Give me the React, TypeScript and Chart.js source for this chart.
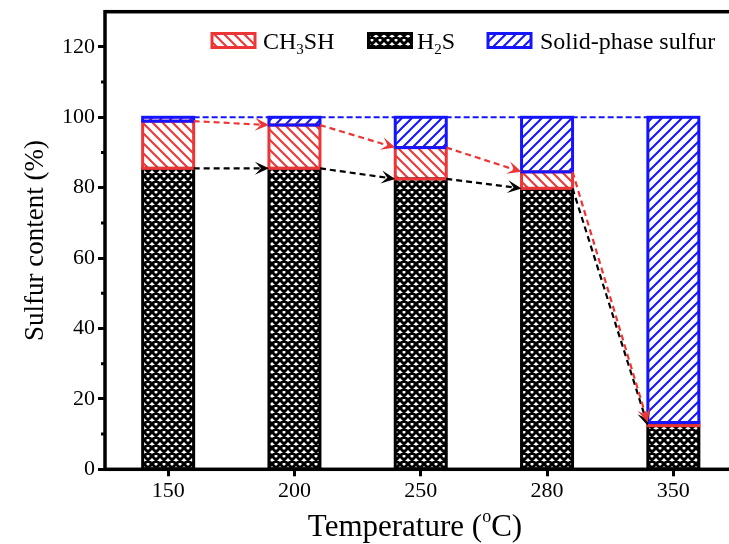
import React, { useEffect, useRef } from "react";
import { Chart, registerables } from "chart.js";
Chart.register(...registerables);

const categories = ["150", "200", "250", "280", "350"];
const h2s = [85.5, 85.5, 82.5, 79.8, 12.4];
const ch3sh = [13.4, 12.3, 8.9, 4.7, 0.9];
const solid = [1.1, 2.2, 8.6, 15.5, 86.7];
const yTicks = [0, 20, 40, 60, 80, 100, 120];
const yMinorTicks = [10, 30, 50, 70, 90, 110];
const yMax = 130;
const fullLevel = 100;

const RED = "#ee3535";
const BLUE = "#1414ff";
const BLACK = "#000000";
const FONT = "'Liberation Serif', 'Times New Roman', serif";
const seriesColors = [BLACK, RED, BLUE];

type Part = { text: string; size: number; dy?: number };

function drawRich(ctx: CanvasRenderingContext2D, parts: Part[], x: number, y: number, align: "left" | "center") {
  let total = 0;
  for (const p of parts) {
    ctx.font = `${p.size}px ${FONT}`;
    total += ctx.measureText(p.text).width;
  }
  let cx = align === "center" ? x - total / 2 : x;
  ctx.textBaseline = "alphabetic";
  ctx.textAlign = "left";
  ctx.fillStyle = "#000";
  for (const p of parts) {
    ctx.font = `${p.size}px ${FONT}`;
    ctx.fillText(p.text, cx, y + (p.dy || 0));
    cx += ctx.measureText(p.text).width;
  }
}

function makeTile(kind: "slash" | "back" | "cross", color: string, size: number, lw: number) {
  const c = document.createElement("canvas");
  c.width = size;
  c.height = size;
  const g = c.getContext("2d")!;
  g.fillStyle = "#fff";
  g.fillRect(0, 0, size, size);
  g.strokeStyle = color;
  g.lineWidth = lw;
  g.beginPath();
  if (kind === "slash" || kind === "cross") {
    for (const cc of [0, size, 2 * size]) {
      g.moveTo(cc + 2, -2);
      g.lineTo(cc - size - 2, size + 2);
    }
  }
  if (kind === "back" || kind === "cross") {
    for (const cc of [-size, 0, size]) {
      g.moveTo(cc - 2, -2);
      g.lineTo(cc + size + 2, size + 2);
    }
  }
  g.stroke();
  return c;
}

function arrow(ctx: CanvasRenderingContext2D, x1: number, y1: number, x2: number, y2: number, color: string) {
  const ang = Math.atan2(y2 - y1, x2 - x1);
  const L = 14, W = 6.5, N = 8;
  const nx = x2 - Math.cos(ang) * N;
  const ny = y2 - Math.sin(ang) * N;
  ctx.save();
  ctx.strokeStyle = color;
  ctx.lineWidth = 2.2;
  ctx.setLineDash([6, 4]);
  ctx.beginPath();
  ctx.moveTo(x1, y1);
  ctx.lineTo(nx, ny);
  ctx.stroke();
  ctx.setLineDash([]);
  ctx.translate(x2, y2);
  ctx.rotate(ang);
  ctx.fillStyle = color;
  ctx.beginPath();
  ctx.moveTo(0, 0);
  ctx.lineTo(-L, -W);
  ctx.lineTo(-N, 0);
  ctx.lineTo(-L, W);
  ctx.closePath();
  ctx.fill();
  ctx.restore();
}

export default function App() {
  const ref = useRef<HTMLCanvasElement | null>(null);

  useEffect(() => {
    const canvas = ref.current!;
    const ctx = canvas.getContext("2d")!;
    const redPat = ctx.createPattern(makeTile("back", RED, 10, 2), "repeat")!;
    const bluePat = ctx.createPattern(makeTile("slash", BLUE, 10, 2), "repeat")!;
    const crossPat = ctx.createPattern(makeTile("cross", BLACK, 8, 2.9), "repeat")!;

    const extras = {
      id: "extras",
      beforeDatasetsDraw(chart: any) {
        const c = chart.ctx as CanvasRenderingContext2D;
        const meta = chart.getDatasetMeta(2);
        const ys = chart.scales.y;
        const b0 = meta.data[0];
        const bN = meta.data[meta.data.length - 1];
        const y = ys.getPixelForValue(fullLevel);
        c.save();
        c.strokeStyle = BLUE;
        c.lineWidth = 2;
        c.setLineDash([6, 3]);
        c.beginPath();
        c.moveTo(b0.x + b0.width / 2, y);
        c.lineTo(bN.x - bN.width / 2, y);
        c.stroke();
        c.restore();
      },
      afterDatasetsDraw(chart: any) {
        const c = chart.ctx as CanvasRenderingContext2D;
        const ys = chart.scales.y;
        c.save();
        c.lineWidth = 3;
        for (let d = 0; d < 3; d++) {
          const m = chart.getDatasetMeta(d);
          c.strokeStyle = seriesColors[d];
          for (const el of m.data) {
            const top = Math.min(el.y, el.base);
            const h = Math.abs(el.base - el.y);
            c.strokeRect(el.x - el.width / 2, top, el.width, h);
          }
        }
        c.restore();
        const meta = chart.getDatasetMeta(0);
        for (let i = 0; i < categories.length - 1; i++) {
          const a = meta.data[i];
          const b = meta.data[i + 1];
          const xa = a.x + a.width / 2;
          const xb = b.x - b.width / 2;
          arrow(c, xa, ys.getPixelForValue(h2s[i]), xb, ys.getPixelForValue(h2s[i + 1]), BLACK);
          arrow(c, xa, ys.getPixelForValue(h2s[i] + ch3sh[i]), xb, ys.getPixelForValue(h2s[i + 1] + ch3sh[i + 1]), RED);
        }
      },
      afterDraw(chart: any) {
        const c = chart.ctx as CanvasRenderingContext2D;
        const { left, right, top, bottom } = chart.chartArea;
        const ys = chart.scales.y;
        c.save();
        c.strokeStyle = "#000";
        c.lineWidth = 3.5;
        c.strokeRect(left, top, right - left, bottom - top);
        c.lineWidth = 3;
        c.beginPath();
        for (const v of yMinorTicks) {
          const y = ys.getPixelForValue(v);
          c.moveTo(left - 4, y);
          c.lineTo(left, y);
        }
        c.stroke();

        c.save();
        c.translate(36, (top + bottom) / 2);
        c.rotate(-Math.PI / 2);
        c.font = `27px ${FONT}`;
        c.fillStyle = "#000";
        c.textAlign = "center";
        c.textBaseline = "middle";
        c.fillText("Sulfur content (%)", 0, 0);
        c.restore();

        drawRich(c, [
          { text: "Temperature (", size: 31 },
          { text: "o", size: 18, dy: -14 },
          { text: "C)", size: 31 },
        ], 415, 536, "center");

        const items: { pat: CanvasPattern; color: string; x: number; tx: number; parts: Part[] }[] = [
          { pat: redPat, color: RED, x: 212, tx: 263, parts: [{ text: "CH", size: 24 }, { text: "3", size: 15, dy: 5 }, { text: "SH", size: 24 }] },
          { pat: crossPat, color: BLACK, x: 368.5, tx: 417, parts: [{ text: "H", size: 24 }, { text: "2", size: 15, dy: 5 }, { text: "S", size: 24 }] },
          { pat: bluePat, color: BLUE, x: 488, tx: 540, parts: [{ text: "Solid-phase sulfur", size: 24 }] },
        ];
        for (const it of items) {
          c.fillStyle = it.pat;
          c.fillRect(it.x, 33.5, 43, 14);
          c.strokeStyle = it.color;
          c.lineWidth = 3;
          c.strokeRect(it.x, 33.5, 43, 14);
          drawRich(c, it.parts, it.tx, 49, "left");
        }
        c.restore();
      },
    };

    const common = { borderWidth: 0, barThickness: 51, stack: "s" };
    const chart = new Chart(canvas, {
      type: "bar",
      data: {
        labels: categories,
        datasets: [
          { label: "H2S", data: h2s, backgroundColor: crossPat, ...common },
          { label: "CH3SH", data: ch3sh, backgroundColor: redPat, ...common },
          { label: "Solid-phase sulfur", data: solid, backgroundColor: bluePat, ...common },
        ],
      } as any,
      options: {
        animation: false,
        responsive: false,
        devicePixelRatio: 1,
        layout: { padding: { top: 11.7, right: 3.5, left: 0, bottom: 0 } },
        plugins: { legend: { display: false }, tooltip: { enabled: false }, title: { display: false } },
        scales: {
          x: {
            type: "category",
            offset: true,
            stacked: true,
            grid: { display: true, drawOnChartArea: false, offset: false, tickLength: 7, tickWidth: 3, tickColor: "#000" },
            border: { display: false },
            ticks: { font: { family: FONT, size: 22 }, color: "#000", padding: 2, maxRotation: 0 },
            afterFit: (s: any) => { s.height = 74.7; s.paddingLeft = 0; s.paddingRight = 0; },
          },
          y: {
            type: "linear",
            min: 0,
            max: yMax,
            stacked: true,
            afterBuildTicks: (s: any) => { s.ticks = yTicks.map((v) => ({ value: v })); },
            grid: { display: true, drawOnChartArea: false, tickLength: 7, tickWidth: 3, tickColor: "#000" },
            border: { display: false },
            ticks: { font: { family: FONT, size: 22 }, color: "#000", padding: 3 },
            afterFit: (s: any) => { s.width = 105; s.paddingTop = 0; s.paddingBottom = 0; },
          },
        },
      } as any,
      plugins: [extras],
    });
    return () => chart.destroy();
  }, []);

  return (
    <div style={{ position: "fixed", left: 0, top: 0, width: 729, height: 544, overflow: "hidden", background: "#fff" }}>
      <canvas ref={ref} width={740} height={544} style={{ display: "block" }} />
    </div>
  );
}
